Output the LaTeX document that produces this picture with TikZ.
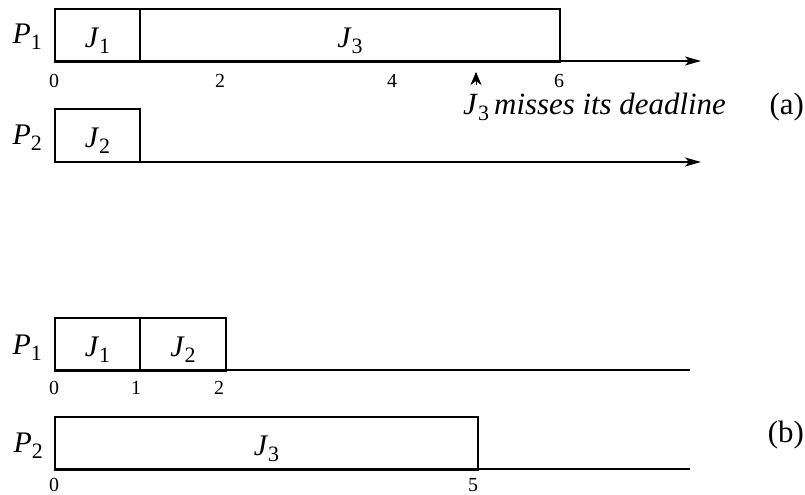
\documentclass[tikz,border=0pt]{standalone}
\usepackage{fontspec}
\setmainfont{Liberation Serif}
\usetikzlibrary{arrows.meta}
\newcommand\jsub[2]{\textit{#1}\raisebox{-6bp}{\fontsize{22}{22}\selectfont #2}}
\tikzset{
  jobbox/.style={draw, line width=2bp, inner sep=0pt, anchor=north west, minimum height=53bp,
    text height=24bp, text depth=0pt, font=\fontsize{30}{30}\selectfont},
  proclabel/.style={inner sep=0pt, anchor=base east, font=\fontsize{30}{30}\selectfont},
  ticklabel/.style={inner sep=0pt, anchor=base, font=\fontsize{20}{20}\selectfont},
  axisline/.style={line width=1.3bp},
  axisarrow/.style={line width=1.3bp, -{Stealth[length=16bp,width=9bp,inset=4bp]}},
  caption/.style={inner sep=0pt, font=\fontsize{31}{31}\selectfont}
}
\begin{document}
\begin{tikzpicture}[x=1bp,y=-1bp]
\useasboundingbox (0,0) rectangle (805,495);
% ---------- (a) ----------
\node[proclabel] (pa1) at (42,44) {\jsub{P}{1}};
\node[jobbox, minimum width=85bp] (aj1) at (54,8) {\jsub{J}{1}};
\node[jobbox, minimum width=420bp] (aj3) at (139,8) {\jsub{J}{3}};
\coordinate (aa1s) at (54,61);
\coordinate (aa1e) at (701,61);
\draw[axisarrow] (aa1s) -- (aa1e);
\node[ticklabel] (at0) at (54,87.5) {0};
\node[ticklabel] (at2) at (220,87.5) {2};
\node[ticklabel] (at4) at (392,87.5) {4};
\node[ticklabel] (at6) at (559,87.5) {6};
\coordinate (dltip) at (476,72);
\coordinate (dlbase) at (476,85);
\draw[line width=0.5bp, -{Stealth[length=13bp,width=11bp,inset=4bp]}] (dlbase) -- (dltip);
\node[caption, anchor=base west] (miss) at (463,115) {\jsub{J}{3}\,\textit{misses its deadline}};
\node[caption, anchor=base east] (capa) at (804,115) {(a)};
\node[proclabel] (pa2) at (42,145) {\jsub{P}{2}};
\node[jobbox, minimum width=85bp] (aj2) at (54,108) {\jsub{J}{2}};
\coordinate (aa2s) at (54,162);
\coordinate (aa2e) at (701,162);
\draw[axisarrow] (aa2s) -- (aa2e);
% ---------- (b) ----------
\node[proclabel] (pb1) at (42,354) {\jsub{P}{1}};
\node[jobbox, minimum width=85bp] (bj1) at (54,317) {\jsub{J}{1}};
\node[jobbox, minimum width=86bp] (bj2) at (139,317) {\jsub{J}{2}};
\coordinate (ba1s) at (54,370);
\coordinate (ba1e) at (690,370);
\draw[axisline] (ba1s) -- (ba1e);
\node[ticklabel] (bt0) at (54,394.5) {0};
\node[ticklabel] (bt1) at (136,394.5) {1};
\node[ticklabel] (bt2) at (219,394.5) {2};
\node[proclabel] (pb2) at (43,452) {\jsub{P}{2}};
\node[jobbox, minimum width=423bp] (bj3) at (54,416) {\jsub{J}{3}};
\coordinate (ba2s) at (54,469);
\coordinate (ba2e) at (690,469);
\draw[axisline] (ba2s) -- (ba2e);
\node[ticklabel] (bt0b) at (54,491) {0};
\node[ticklabel] (bt5) at (473,491) {5};
\node[caption, anchor=base east] (capb) at (804,442) {(b)};
\end{tikzpicture}
\end{document}
